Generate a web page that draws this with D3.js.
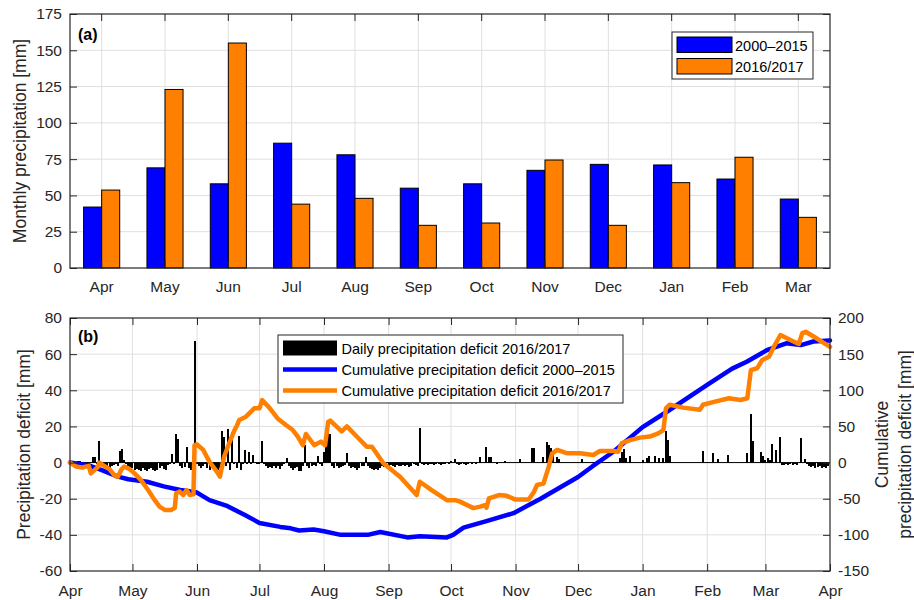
<!DOCTYPE html>
<html>
<head>
<meta charset="utf-8">
<script src="https://cdn.jsdelivr.net/npm/d3@7"></script>
<style>
body { margin: 0; background: #fff; }
svg { font-family: 'Liberation Sans', Arial, Helvetica, sans-serif; }
</style>
</head>
<body>
<script>
// ---- panel (a): monthly precipitation ----
const months = ['Apr', 'May', 'Jun', 'Jul', 'Aug', 'Sep', 'Oct', 'Nov', 'Dec', 'Jan', 'Feb', 'Mar']
const seriesNames = ['2000–2015', '2016/2017']
const precipMean = [42, 69, 58, 86, 78, 55, 58, 67.3, 71.4, 71, 61.3, 47.5]
const precip2016 = [53.7, 123, 155, 44, 48, 29.4, 31, 74.4, 29.4, 58.8, 76.3, 34.9]
const yTicksA = [0, 25, 50, 75, 100, 125, 150, 175]

// ---- panel (b): daily precipitation deficit 2016/2017 [mm], one value per day ----
const dayApr = [-0.5, -0.5, 0, 0, 1, 1, -0.5, -0.5, -1, -1,
  -0.5, 3.3, 3.3, -1, 12, -1, -2, -3, -2.5, -3,
  -2, -1.5, -1, -2, 6.4, 7.5, 1.5, -1, -2, -3]
const dayMay = [-3, -4, -3.5, -4, -4.5, -3, -4, -4.5, -3.5, -3,
  -4, -4.5, -4, -3, -2, -3.5, -4, -1.5, -1, 4.7,
  -1, 15.8, 13.3, -2, -3, -2.5, 8.8, -3, -4, -3.5,
  67.5]
const dayJun = [-1, -2, -3, -2, -1, -3, -4, -3, -4, -3.5,
  -4, -3, 17.7, 14.3, -2, 18.8, -4, 16.8, -1, -3,
  14.7, -4, -1, 7, -1, 6, -1, 4.2, -0.5, -1]
const dayJul = [-1, 12, -1, -2, -3, -2.5, -3, -2, -3, -2,
  -3.5, -2, -1, 2.4, -2, -3, -4, -3, -2.5, -4.5,
  -4.5, -2, 10, -2, -3, -2, -1.5, -2, 3.7, -1,
  -2]
const dayAug = [6, 12, 19, 16, -2, -3, -2, -3, -2.5, -2,
  -1.5, 5.5, -2, -3, -2.5, -3, -4, -3, -2, -2,
  3, -2, -3, -3.5, -4, -3.5, -4, -3, -2, -2.5,
  -2]
const daySep = [-2, -1.5, -2, -2.5, -1.5, -2, -2, -1.5, -2, -1.5,
  -2.5, -2, -1, -1.5, -2, 19.3, -1, -1.5, -1, -1.5,
  -1, -1, -1.5, -1, -1, -1.5, -1, -1, -0.5, -1]
const dayOct = [1, -0.5, 1.7, -1, -1.5, -1, -1, -1.5, -1, -0.5,
  -1, -0.5, -1, -0.5, 3, -0.5, -0.5, 8.8, 3.3, 3.3,
  -0.5, -0.5, -1, -0.5, -0.5, -0.5, 1, -0.5, -0.5, -0.5,
  -0.5]
const dayNov = [-0.5, -0.5, 2, -0.5, -0.5, -0.5, -0.5, -0.5, 7.9, 7.9,
  -0.5, -0.5, -0.5, 3, -0.5, 11.6, 9.7, 8, 6, -0.5,
  3.3, 2, -0.5, -0.5, -0.5, -0.5, -0.5, -0.5, -0.5, -0.5]
const dayDec = [-0.5, 0, 2, 0, 0, -0.3, 0, 0, -0.3, 0,
  0, 0.5, 0, 0, -0.3, 0, 0, 0, 0, 0,
  2.4, 5.6, 7.4, 2.4, 0, 3.8, 0, 0, 0, 0,
  0]
const dayJan = [1.5, 0, 2.4, 3.8, 0, 0, 3.6, 0, 2.5, 0,
  2.8, 17.7, 12.5, 3.4, 0, -0.3, -0.3, 0, 0, -0.3,
  0, 0, 0, -0.3, 0, 0, 0, 0, 0, 6.2,
  0]
const dayFeb = [0, 0, 0, 5.1, 0, 2, 0, 0, 0, 0,
  4.2, 0, -0.5, -0.5, -0.5, -0.3, 0, 0, 0, 5.1,
  0, 26.8, 12, 0, -0.5, 0, 5.8, 3.8]
const dayMar = [1.5, 2.3, 1.5, 10.1, 0, 7, 0, 14.1, -1.5, -1.5,
  -1, -1.5, -1, -1.5, -1, -1.5, 0, 13.5, 0, 2,
  -1, -2, -2.5, -2, -3, -2.5, -2, -3, -2.5, -3,
  -2]

// cumulative deficit [mm], [days since 1 Apr, value on right axis]
const cumMean = [[0, 0], [9, -4], [15, -10], [23, -19.5], [28, -23], [37, -26.5], [45, -33],
  [53, -38], [61, -41.5], [67, -52], [75, -59.5], [84, -72.5], [91, -83.5], [101, -89],
  [106, -91], [110, -94], [117, -92.5], [122, -95], [130, -100], [143, -100], [149, -96],
  [162, -103.5], [168, -102], [181, -103.5], [184, -100], [189, -90], [200, -81], [213, -70],
  [226, -50], [238, -30], [244, -20], [251, -5], [261, 15], [275, 49], [287, 71], [306, 107.5],
  [318, 130], [325, 139.5], [335, 156], [344, 165], [351, 162.5], [357, 167.5], [365, 169]]
const cum2016 = [[0, 0], [3, -5.5], [6, -7], [7, -6], [9, -4.5], [10, -15], [13.5, -6], [14, 0],
  [17, -5.5], [19, -9], [21.5, -18.5], [23, -19.5], [24.6, -10], [26, -5.5], [28.7, -9], [31, -15],
  [34, -24], [37.5, -38], [40.7, -52], [43, -61], [45.5, -65.5], [48.6, -65.5], [50.3, -63],
  [51, -42.5], [52.7, -40], [54.3, -45], [56, -38], [57.5, -45], [59.3, -44], [59.8, 24], [61, 25],
  [64, 17.5], [67, 1], [70.5, -12.5], [72, -19.5], [74, 8], [76.5, 27], [79, 45], [80, 50],
  [81.3, 59], [84.5, 63.5], [88.5, 75], [91, 75], [92.3, 86.5], [95.7, 76], [99.7, 61], [103.7, 52],
  [107, 45], [109.4, 36], [111.8, 24], [113.3, 39.5], [117.3, 24], [120.5, 29], [122.5, 24],
  [124, 56.5], [125, 58], [130.5, 43], [133, 50], [137.7, 36], [142.5, 22], [145, 22], [150.5, -1],
  [158.5, -19.5], [166.5, -45], [168, -26.5], [173.7, -38], [181, -52], [185, -52], [187.3, -54],
  [193.7, -63], [197, -61], [199.3, -59], [200, -62.5], [201.2, -49.5], [206, -45], [209.7, -46],
  [213.7, -51], [220.3, -51], [222.7, -41], [224.3, -31], [227.4, -29], [229.9, -6], [231.5, 12.5],
  [234, 17.5], [238.5, 13], [241, 13], [245, 13], [251.3, 10.5], [254.5, 16], [261, 16],
  [263.3, 15], [265, 27], [269, 31], [273.7, 34.5], [278.5, 36], [282.5, 40.5], [285, 45],
  [286.2, 75], [288, 80], [294.5, 76], [302.5, 73], [304, 80], [309.3, 84], [316.5, 89],
  [322, 86.5], [325.3, 89], [327, 128], [330, 130.5], [332.5, 142], [335.7, 146.5], [338, 160],
  [341.2, 176.5], [346, 169.5], [350, 164], [351.7, 179], [353.3, 181], [357.3, 174], [365, 160]]
const yTicksB = [-60, -40, -20, 0, 20, 40, 60, 80]
const yTicksB2 = [-150, -100, -50, 0, 50, 100, 150, 200]
const legendB = ['Daily precipitation deficit 2016/2017',
  'Cumulative precipitation deficit 2000–2015',
  'Cumulative precipitation deficit 2016/2017']

const dailyDeficit = [].concat(dayApr, dayMay, dayJun, dayJul, dayAug, daySep,
  dayOct, dayNov, dayDec, dayJan, dayFeb, dayMar)

// styles
const axisColor = '#262626'
const gridColor = '#dfdfdf'
const blue = '#0000ff'
const orange = '#ff8000'
const tickFont = '15.5px'
const labelFont = '17.5px'

const svg = d3.select('body').append('svg')
  .attr('width', 914)
  .attr('height', 600)

// inward ticks, no domain line
function styleAxis(g) {
  g.select('.domain').remove()
  g.selectAll('.tick line').attr('stroke', axisColor).attr('stroke-width', 1)
  g.selectAll('.tick text').attr('fill', axisColor).style('font-size', tickFont)
}

// ===================== panel (a) =====================
const a = { left: 70, right: 830, top: 14, bottom: 268 }

const xA = d3.scaleBand()
  .domain(months)
  .range([a.left, a.right])
  .paddingInner(0.43)
  .paddingOuter(0.215)
const xSub = d3.scaleBand().domain(seriesNames).range([0, xA.bandwidth()])
const yA = d3.scaleLinear().domain([0, 175]).range([a.bottom, a.top])
const monthCenter = m => xA(m) + xA.bandwidth() / 2

const gA = svg.append('g')

// grid
gA.selectAll('.hgrid').data(yTicksA.slice(1, -1)).enter().append('line')
  .attr('x1', a.left).attr('x2', a.right)
  .attr('y1', d => yA(d)).attr('y2', d => yA(d))
  .attr('stroke', gridColor)
gA.selectAll('.vgrid').data(months).enter().append('line')
  .attr('x1', monthCenter).attr('x2', monthCenter)
  .attr('y1', a.top).attr('y2', a.bottom)
  .attr('stroke', gridColor)

// bars
const barData = months.map((m, i) => ({ m, vals: [precipMean[i], precip2016[i]] }))
const barColors = d3.scaleOrdinal().domain(seriesNames).range([blue, orange])
gA.selectAll('.grp').data(barData).enter().append('g')
  .attr('transform', d => `translate(${xA(d.m)},0)`)
  .selectAll('rect')
  .data(d => d.vals.map((v, j) => ({ s: seriesNames[j], v })))
  .enter().append('rect')
  .attr('x', d => xSub(d.s))
  .attr('width', xSub.bandwidth())
  .attr('y', d => yA(d.v))
  .attr('height', d => yA(0) - yA(d.v))
  .attr('fill', d => barColors(d.s))
  .attr('stroke', '#000')
  .attr('stroke-width', 1)

// axes
gA.append('g').attr('transform', `translate(${a.left},0)`)
  .call(d3.axisLeft(yA).tickValues(yTicksA).tickSize(-7).tickPadding(8).tickFormat(d => String(d)))
  .call(styleAxis)
gA.append('g').attr('transform', `translate(${a.right},0)`)
  .call(d3.axisRight(yA).tickValues(yTicksA).tickSize(-7).tickFormat(''))
  .call(styleAxis)
gA.append('g').attr('transform', `translate(0,${a.bottom})`)
  .call(d3.axisBottom(xA).tickSize(-7).tickPadding(13))
  .call(styleAxis)
gA.append('g').attr('transform', `translate(0,${a.top})`)
  .call(d3.axisTop(xA).tickSize(-7).tickFormat(''))
  .call(styleAxis)
gA.append('rect')
  .attr('x', a.left).attr('y', a.top)
  .attr('width', a.right - a.left).attr('height', a.bottom - a.top)
  .attr('fill', 'none').attr('stroke', axisColor).attr('stroke-width', 1.2)

gA.append('text')
  .attr('transform', `translate(26,${(a.top + a.bottom) / 2}) rotate(-90)`)
  .attr('text-anchor', 'middle')
  .attr('fill', axisColor)
  .style('font-size', labelFont)
  .text('Monthly precipitation [mm]')

gA.append('text')
  .attr('x', 78).attr('y', 40)
  .style('font-size', '16px').style('font-weight', 'bold')
  .text('(a)')

// legend (a)
const legA = gA.append('g')
legA.append('rect')
  .attr('x', 672).attr('y', 32).attr('width', 141).attr('height', 47)
  .attr('fill', '#fff').attr('stroke', axisColor).attr('stroke-width', 1)
seriesNames.forEach((s, i) => {
  legA.append('rect')
    .attr('x', 677).attr('y', 37 + i * 21.5).attr('width', 55).attr('height', 15.5)
    .attr('fill', barColors(s)).attr('stroke', '#000')
  legA.append('text')
    .attr('x', 735).attr('y', 50.5 + i * 21.5)
    .style('font-size', '14.5px')
    .text(s)
})

// ===================== panel (b) =====================
const b = { left: 70, right: 830, top: 318, bottom: 571 }
const t0 = Date.UTC(2016, 3, 1)
const dayToDate = d => new Date(t0 + d * 864e5)

const xB = d3.scaleUtc().domain([dayToDate(0), dayToDate(365)]).range([b.left, b.right])
const yB = d3.scaleLinear().domain([-60, 80]).range([b.bottom, b.top])
const yB2 = d3.scaleLinear().domain([-150, 200]).range([b.bottom, b.top])
const monthTicks = d3.utcMonth.range(dayToDate(0), dayToDate(366))
const dayX = d => xB(dayToDate(d))

const gB = svg.append('g')

gB.selectAll('.hgrid').data(yTicksB.slice(1, -1)).enter().append('line')
  .attr('x1', b.left).attr('x2', b.right)
  .attr('y1', d => yB(d)).attr('y2', d => yB(d))
  .attr('stroke', gridColor)
gB.selectAll('.vgrid').data(monthTicks.slice(1, -1)).enter().append('line')
  .attr('x1', d => xB(d)).attr('x2', d => xB(d))
  .attr('y1', b.top).attr('y2', b.bottom)
  .attr('stroke', gridColor)

// daily bars
gB.selectAll('.day').data(dailyDeficit).enter().append('rect')
  .attr('x', (d, i) => dayX(i) - 1)
  .attr('width', 2)
  .attr('y', d => yB(Math.max(0, d)))
  .attr('height', d => Math.abs(yB(d) - yB(0)))
  .attr('fill', '#000')
  .attr('shape-rendering', 'crispEdges')
gB.append('line')
  .attr('x1', b.left).attr('x2', b.right)
  .attr('y1', yB(0)).attr('y2', yB(0))
  .attr('stroke', '#000').attr('stroke-width', 1)

// cumulative lines
const line = d3.line().x(p => dayX(p[0])).y(p => yB2(p[1]))
gB.append('path').datum(cumMean)
  .attr('d', line).attr('fill', 'none')
  .attr('stroke', blue).attr('stroke-width', 4.5)
  .attr('stroke-linejoin', 'round').attr('stroke-linecap', 'round')
gB.append('path').datum(cum2016)
  .attr('d', line).attr('fill', 'none')
  .attr('stroke', orange).attr('stroke-width', 4.5)
  .attr('stroke-linejoin', 'round').attr('stroke-linecap', 'round')

// axes
gB.append('g').attr('transform', `translate(${b.left},0)`)
  .call(d3.axisLeft(yB).tickValues(yTicksB).tickSize(-7).tickPadding(8).tickFormat(d => String(d)))
  .call(styleAxis)
gB.append('g').attr('transform', `translate(${b.right},0)`)
  .call(d3.axisRight(yB2).tickValues(yTicksB2).tickSize(-7).tickPadding(8).tickFormat(d => String(d)))
  .call(styleAxis)
gB.append('g').attr('transform', `translate(0,${b.bottom})`)
  .call(d3.axisBottom(xB).tickValues(monthTicks).tickSize(-7).tickPadding(14).tickFormat(d3.utcFormat('%b')))
  .call(styleAxis)
gB.append('g').attr('transform', `translate(0,${b.top})`)
  .call(d3.axisTop(xB).tickValues(monthTicks).tickSize(-7).tickFormat(''))
  .call(styleAxis)
gB.append('rect')
  .attr('x', b.left).attr('y', b.top)
  .attr('width', b.right - b.left).attr('height', b.bottom - b.top)
  .attr('fill', 'none').attr('stroke', axisColor).attr('stroke-width', 1.2)

gB.append('text')
  .attr('transform', `translate(29.5,${(b.top + b.bottom) / 2}) rotate(-90)`)
  .attr('text-anchor', 'middle')
  .attr('fill', axisColor)
  .style('font-size', labelFont)
  .text('Precipitation deficit [mm]')
const rightLabel = gB.append('text')
  .attr('transform', `translate(888,${(b.top + b.bottom) / 2}) rotate(-90)`)
  .attr('text-anchor', 'middle')
  .attr('fill', axisColor)
  .style('font-size', labelFont)
rightLabel.append('tspan').attr('x', 0).attr('dy', 0).text('Cumulative')
rightLabel.append('tspan').attr('x', 0).attr('dy', 22.5).text('precipitation deficit [mm]')

gB.append('text')
  .attr('x', 78).attr('y', 342)
  .style('font-size', '16px').style('font-weight', 'bold')
  .text('(b)')

// legend (b)
const legB = gB.append('g')
legB.append('rect')
  .attr('x', 278).attr('y', 335).attr('width', 345).attr('height', 68)
  .attr('fill', '#fff').attr('stroke', axisColor).attr('stroke-width', 1)
legB.append('rect')
  .attr('x', 283).attr('y', 340.5).attr('width', 54).attr('height', 15)
  .attr('fill', '#000')
legB.append('line')
  .attr('x1', 283).attr('x2', 337).attr('y1', 369.5).attr('y2', 369.5)
  .attr('stroke', blue).attr('stroke-width', 4.5)
legB.append('line')
  .attr('x1', 283).attr('x2', 337).attr('y1', 390.5).attr('y2', 390.5)
  .attr('stroke', orange).attr('stroke-width', 4.5)
legendB.forEach((s, i) => {
  legB.append('text')
    .attr('x', 341.5).attr('y', 354 + i * 21.2)
    .style('font-size', '14.5px')
    .text(s)
})
</script>
</body>
</html>
